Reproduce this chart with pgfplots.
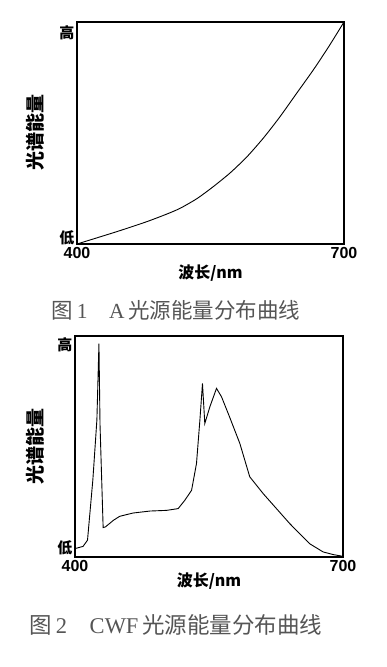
\documentclass[border=0pt]{standalone}
\usepackage{fontspec}
\usepackage{pgfplots}
\pgfplotsset{compat=1.18}
\setmainfont{Liberation Serif}
\newfontfamily\cjk{Noto Sans CJK SC}
\newfontfamily\arialb{Liberation Sans}
\definecolor{capgray}{HTML}{555555}
\begin{document}
\begin{tikzpicture}
\path (0pt,0pt) rectangle (387pt,667pt);
\pgfplotsset{myax/.style={
  scale only axis,
  axis line style={line width=1.3pt},
  xmin=400,xmax=700,ymin=0,ymax=1,
  xtick={400,700}, xticklabels={400,700},
  /pgf/number format/assume math mode=true,
  major tick length=0pt,
  xticklabel style={font=\fontsize{16}{16}\selectfont\arialb\bfseries},
  yticklabel style={font=\fontsize{15}{15}\selectfont\cjk\bfseries, xshift=1pt},
  xlabel={\cjk\bfseries 波长/nm},
  ylabel={\cjk\bfseries 光谱能量},
  xlabel style={font=\fontsize{16}{16}\selectfont, anchor=center},
  ylabel style={font=\fontsize{19}{19}\selectfont, anchor=center},
  every axis plot/.append style={line width=0.9pt, black},
}}
\begin{axis}[myax, at={(77pt,423pt)}, anchor=south west, width=267pt, height=222pt,
  ytick={0.03,0.95}, yticklabels={低,高},
  xlabel style={at={(axis description cs:0.5,-0.13)}},
  ylabel style={at={(axis description cs:-0.157,0.5)}}]
\addplot[smooth, tension=0.4] coordinates {
(400,0) (445,0.056) (478,0.10) (501,0.135) (516,0.161) (535,0.205) (553,0.258) (572,0.32)
(591,0.393) (610,0.48) (628,0.573) (647,0.68) (665.5,0.784) (683,0.89) (700,1)};
\end{axis}
\node[text=capgray, font=\fontsize{21.5}{21.5}\selectfont] at (176pt,357pt) {{\cjk 图}\,1\quad A\,\cjk 光源能量分布曲线};
\begin{axis}[myax, at={(75pt,110pt)}, anchor=south west, width=268pt, height=221pt,
  ytick={0.04,0.96}, yticklabels={低,高},
  xlabel style={at={(axis description cs:0.5,-0.107)}},
  ylabel style={at={(axis description cs:-0.149,0.5)}}]
\addplot[sharp plot] coordinates {
(400,0.038) (409,0.048) (414,0.076) (420,0.35) (424.5,0.62) (426.8,0.965) (428,0.6) (431.5,0.133)
(434,0.136) (443,0.166) (450,0.184) (465,0.199) (484,0.208) (502.5,0.211) (515.5,0.219)
(523,0.257) (530.5,0.302) (536,0.423) (539.8,0.619) (542.7,0.785) (545.3,0.604) (551,0.68)
(558.4,0.763) (564,0.725) (573,0.634) (584.5,0.514) (595.6,0.363) (610.6,0.287) (625.5,0.219)
(640.4,0.151) (662.7,0.06) (677.7,0.023) (689,0.011) (700,0.003)};
\end{axis}
\node[text=capgray, font=\fontsize{22.5}{22.5}\selectfont] at (176pt,42pt) {{\cjk 图}\,2\quad CWF\,\cjk 光源能量分布曲线};
\end{tikzpicture}
\end{document}
